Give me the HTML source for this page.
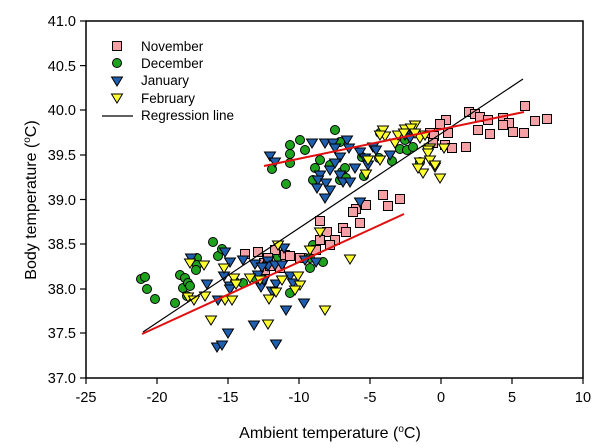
<!DOCTYPE html>
<html><head><style>
body{margin:0;background:#fff;}
svg{display:block;font-family:"Liberation Sans",Arial,sans-serif;}
</style></head><body>
<svg width="600" height="448" viewBox="0 0 600 448" xmlns="http://www.w3.org/2000/svg">
<defs>
<rect id="sq" x="-4.5" y="-4.5" width="9" height="9" fill="#f4a0a4" stroke="#000" stroke-width="1"/>
<circle id="ci" r="4.5" fill="#1fa31f" stroke="#000" stroke-width="1"/>
<path id="tb" d="M-5.5,-4 L5.5,-4 L0,5 Z" fill="#1f5fb0" stroke="#000" stroke-width="1"/>
<path id="ty" d="M-5.5,-4 L5.5,-4 L0,5 Z" fill="#ffff30" stroke="#000" stroke-width="1"/>
</defs>
<rect x="86" y="21" width="497" height="357" fill="#fff" stroke="#000" stroke-width="1.5"/>
<g stroke="#000" stroke-width="1.2">
<line x1="86" y1="21" x2="80" y2="21"/><line x1="86" y1="65.6" x2="80" y2="65.6"/><line x1="86" y1="110" x2="80" y2="110"/><line x1="86" y1="155" x2="80" y2="155"/><line x1="86" y1="199.5" x2="80" y2="199.5"/><line x1="86" y1="244" x2="80" y2="244"/><line x1="86" y1="289" x2="80" y2="289"/><line x1="86" y1="333" x2="80" y2="333"/><line x1="86" y1="378" x2="80" y2="378"/>
<line x1="86" y1="378" x2="86" y2="384"/><line x1="157" y1="378" x2="157" y2="384"/><line x1="228" y1="378" x2="228" y2="384"/><line x1="299" y1="378" x2="299" y2="384"/><line x1="370" y1="378" x2="370" y2="384"/><line x1="441" y1="378" x2="441" y2="384"/><line x1="512" y1="378" x2="512" y2="384"/><line x1="583" y1="378" x2="583" y2="384"/>
</g>
<g font-size="14.5" text-anchor="end" fill="#000">
<text x="76" y="26">41.0</text><text x="76" y="71">40.5</text><text x="76" y="115">40.0</text><text x="76" y="160">39.5</text><text x="76" y="205">39.0</text><text x="76" y="249">38.5</text><text x="76" y="294">38.0</text><text x="76" y="338">37.5</text><text x="76" y="383">37.0</text>
</g>
<g font-size="14.5" text-anchor="middle" fill="#000">
<text x="86" y="402">-25</text><text x="157" y="402">-20</text><text x="228" y="402">-15</text><text x="299" y="402">-10</text><text x="370" y="402">-5</text><text x="441" y="402">0</text><text x="512" y="402">5</text><text x="583" y="402">10</text>
</g>
<text x="330" y="438" font-size="16" text-anchor="middle">Ambient temperature (<tspan dy="-6" font-size="10">o</tspan><tspan dy="6">C)</tspan></text>
<text transform="translate(36,200) rotate(-90)" font-size="16" text-anchor="middle">Body temperature (<tspan dy="-6" font-size="10">o</tspan><tspan dy="6">C)</tspan></text>

<g>
<use href="#ci" x="141" y="279"/><use href="#ci" x="145" y="277"/><use href="#ci" x="147" y="289"/><use href="#ci" x="155" y="299"/><use href="#ci" x="175" y="303"/><use href="#ci" x="180" y="275"/><use href="#ci" x="185" y="278"/><use href="#ci" x="183" y="288"/><use href="#ci" x="188" y="283"/><use href="#ci" x="190" y="286"/><use href="#ci" x="187" y="296"/><use href="#ci" x="197" y="258"/><use href="#ci" x="197" y="265"/><use href="#ci" x="196" y="270"/><use href="#ci" x="213" y="242"/><use href="#ci" x="218" y="256"/><use href="#ci" x="222" y="249"/><use href="#ci" x="235" y="282"/><use href="#ci" x="243" y="283"/><use href="#ci" x="255" y="278"/><use href="#ci" x="263" y="279"/><use href="#ci" x="278" y="257"/><use href="#ci" x="283" y="254"/><use href="#ci" x="290" y="293"/><use href="#ci" x="305" y="258"/><use href="#ci" x="310" y="258"/><use href="#ci" x="313" y="245"/><use href="#ci" x="310" y="268"/><use href="#ci" x="323" y="262"/>
<use href="#ci" x="272" y="169"/><use href="#ci" x="286" y="184"/><use href="#ci" x="290" y="145"/><use href="#ci" x="290" y="154"/><use href="#ci" x="290" y="163"/><use href="#ci" x="300" y="140"/><use href="#ci" x="305" y="150"/><use href="#ci" x="320" y="160"/><use href="#ci" x="315" y="168"/><use href="#ci" x="330" y="165"/><use href="#ci" x="340" y="180"/><use href="#ci" x="342" y="172"/><use href="#ci" x="345" y="168"/><use href="#ci" x="335" y="130"/><use href="#ci" x="340" y="142"/><use href="#ci" x="362" y="157"/><use href="#ci" x="379" y="158"/><use href="#ci" x="400" y="149"/><use href="#ci" x="407" y="150"/><use href="#ci" x="405" y="140"/><use href="#ci" x="413" y="147"/><use href="#ci" x="420" y="162"/><use href="#ci" x="392" y="161"/><use href="#ci" x="380" y="133"/><use href="#ci" x="364" y="176"/><use href="#ci" x="346" y="178"/><use href="#ci" x="313" y="180"/>
</g>
<g>
<use href="#sq" x="245" y="254"/><use href="#sq" x="258" y="252"/><use href="#sq" x="264" y="263"/><use href="#sq" x="265" y="270"/><use href="#sq" x="270" y="266"/><use href="#sq" x="285" y="255"/><use href="#sq" x="290" y="256"/><use href="#sq" x="275" y="250"/><use href="#sq" x="280" y="268"/><use href="#sq" x="300" y="258"/><use href="#sq" x="268" y="258"/>
<use href="#sq" x="383" y="195"/><use href="#sq" x="360" y="223"/><use href="#sq" x="343" y="228"/><use href="#sq" x="327" y="232"/><use href="#sq" x="346" y="232"/><use href="#sq" x="335" y="240"/><use href="#sq" x="320" y="240"/><use href="#sq" x="316" y="250"/><use href="#sq" x="330" y="245"/><use href="#sq" x="320" y="221"/><use href="#sq" x="366" y="205"/><use href="#sq" x="356" y="209"/><use href="#sq" x="353" y="212"/><use href="#sq" x="388" y="206"/><use href="#sq" x="400" y="199"/>
<use href="#sq" x="469" y="112"/><use href="#sq" x="475" y="114"/><use href="#sq" x="480" y="117"/><use href="#sq" x="488" y="120"/><use href="#sq" x="503" y="118"/><use href="#sq" x="509" y="123"/><use href="#sq" x="513" y="132"/><use href="#sq" x="525" y="106"/><use href="#sq" x="535" y="121"/><use href="#sq" x="547" y="119"/><use href="#sq" x="524" y="133"/><use href="#sq" x="446" y="120"/><use href="#sq" x="440" y="124"/><use href="#sq" x="430" y="133"/><use href="#sq" x="445" y="145"/><use href="#sq" x="452" y="148"/><use href="#sq" x="434" y="136"/><use href="#sq" x="448" y="133"/><use href="#sq" x="433" y="143"/><use href="#sq" x="466" y="147"/><use href="#sq" x="478" y="130"/><use href="#sq" x="490" y="134"/><use href="#sq" x="503" y="125"/>
</g>
<g>
<use href="#tb" x="191" y="258"/><use href="#tb" x="207" y="284"/><use href="#tb" x="224" y="276"/><use href="#tb" x="230" y="286"/><use href="#tb" x="225" y="252"/><use href="#tb" x="230" y="262"/><use href="#tb" x="230" y="289"/><use href="#tb" x="218" y="300"/><use href="#tb" x="228" y="333"/><use href="#tb" x="217" y="347"/><use href="#tb" x="222" y="345"/><use href="#tb" x="243" y="260"/><use href="#tb" x="255" y="264"/><use href="#tb" x="258" y="275"/><use href="#tb" x="261" y="287"/><use href="#tb" x="268" y="261"/><use href="#tb" x="268" y="266"/><use href="#tb" x="275" y="265"/><use href="#tb" x="276" y="284"/><use href="#tb" x="264" y="280"/><use href="#tb" x="272" y="291"/><use href="#tb" x="254" y="325"/><use href="#tb" x="286" y="310"/><use href="#tb" x="276" y="344"/><use href="#tb" x="262" y="267"/><use href="#tb" x="282" y="265"/><use href="#tb" x="284" y="248"/><use href="#tb" x="290" y="276"/><use href="#tb" x="293" y="283"/><use href="#tb" x="305" y="260"/><use href="#tb" x="316" y="262"/><use href="#tb" x="304" y="303"/>
<use href="#tb" x="270" y="156"/><use href="#tb" x="275" y="162"/><use href="#tb" x="312" y="143"/><use href="#tb" x="325" y="143"/><use href="#tb" x="333" y="143"/><use href="#tb" x="335" y="148"/><use href="#tb" x="340" y="157"/><use href="#tb" x="347" y="140"/><use href="#tb" x="349" y="148"/><use href="#tb" x="360" y="152"/><use href="#tb" x="365" y="158"/><use href="#tb" x="373" y="147"/><use href="#tb" x="376" y="150"/><use href="#tb" x="330" y="170"/><use href="#tb" x="335" y="163"/><use href="#tb" x="340" y="175"/><use href="#tb" x="320" y="175"/><use href="#tb" x="318" y="180"/><use href="#tb" x="326" y="183"/><use href="#tb" x="330" y="190"/><use href="#tb" x="343" y="182"/><use href="#tb" x="350" y="182"/><use href="#tb" x="355" y="168"/><use href="#tb" x="368" y="165"/><use href="#tb" x="390" y="155"/><use href="#tb" x="405" y="135"/><use href="#tb" x="410" y="138"/><use href="#tb" x="325" y="198"/><use href="#tb" x="360" y="202"/><use href="#tb" x="317" y="188"/>
</g>
<g>
<use href="#ty" x="190" y="263"/><use href="#ty" x="204" y="265"/><use href="#ty" x="224" y="268"/><use href="#ty" x="234" y="278"/><use href="#ty" x="236" y="284"/><use href="#ty" x="205" y="296"/><use href="#ty" x="188" y="297"/><use href="#ty" x="194" y="300"/><use href="#ty" x="225" y="300"/><use href="#ty" x="232" y="300"/><use href="#ty" x="250" y="278"/><use href="#ty" x="260" y="280"/><use href="#ty" x="269" y="299"/><use href="#ty" x="276" y="292"/><use href="#ty" x="282" y="280"/><use href="#ty" x="298" y="276"/><use href="#ty" x="278" y="245"/><use href="#ty" x="310" y="250"/><use href="#ty" x="320" y="232"/><use href="#ty" x="300" y="285"/><use href="#ty" x="295" y="290"/><use href="#ty" x="325" y="310"/><use href="#ty" x="350" y="259"/><use href="#ty" x="211" y="320"/><use href="#ty" x="268" y="324"/>
<use href="#ty" x="368" y="160"/><use href="#ty" x="380" y="160"/><use href="#ty" x="383" y="130"/><use href="#ty" x="385" y="136"/><use href="#ty" x="405" y="129"/><use href="#ty" x="395" y="143"/><use href="#ty" x="380" y="135"/><use href="#ty" x="398" y="135"/><use href="#ty" x="415" y="125"/><use href="#ty" x="411" y="128"/><use href="#ty" x="430" y="148"/><use href="#ty" x="420" y="138"/><use href="#ty" x="404" y="133"/><use href="#ty" x="415" y="133"/><use href="#ty" x="425" y="135"/><use href="#ty" x="444" y="148"/><use href="#ty" x="428" y="150"/><use href="#ty" x="420" y="162"/><use href="#ty" x="428" y="153"/><use href="#ty" x="430" y="160"/><use href="#ty" x="435" y="167"/><use href="#ty" x="440" y="178"/><use href="#ty" x="423" y="173"/><use href="#ty" x="435" y="165"/><use href="#ty" x="366" y="174"/><use href="#ty" x="418" y="168"/>
</g>
<line x1="143" y1="332" x2="523" y2="79" stroke="#000" stroke-width="1.2"/>
<line x1="142" y1="334" x2="404" y2="214" stroke="#e01010" stroke-width="2"/>
<line x1="264" y1="166" x2="524" y2="112" stroke="#e01010" stroke-width="2"/>

<g font-size="13.5" fill="#000">
<use href="#sq" x="117" y="46"/><text x="141" y="51">November</text>
<use href="#ci" x="117" y="63"/><text x="141" y="68">December</text>
<use href="#tb" x="117" y="81"/><text x="141" y="85">January</text>
<use href="#ty" x="117" y="98"/><text x="141" y="103">February</text>
<line x1="102" y1="116" x2="133" y2="116" stroke="#000" stroke-width="1.2"/><text x="141" y="120">Regression line</text>
</g>
</svg>
</body></html>
